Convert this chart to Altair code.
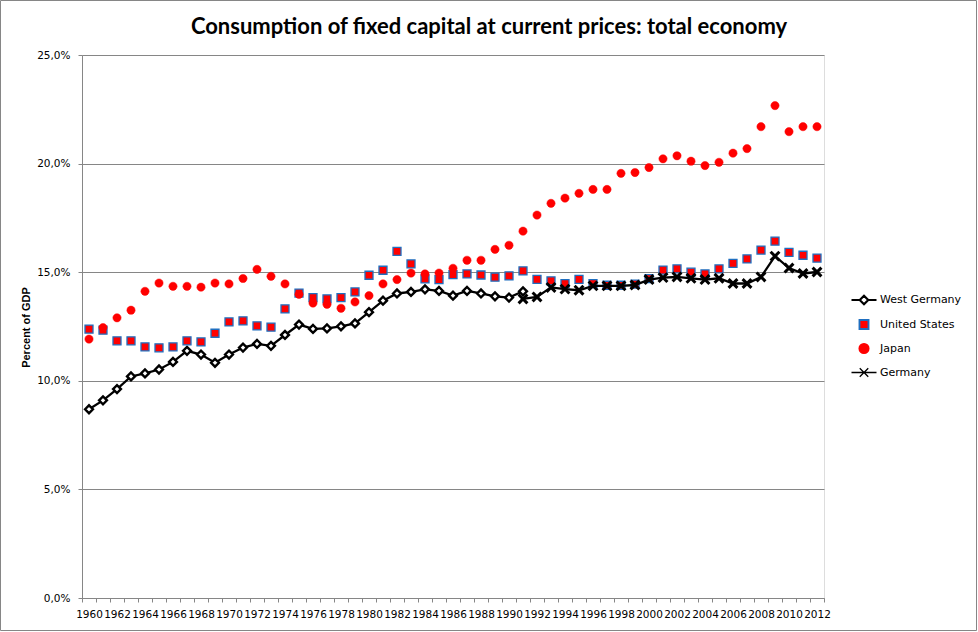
import altair as alt
import pandas as pd

years = list(range(1960, 2013))

west_germany_years = list(range(1960, 1992))
west_germany = [8.69, 9.10, 9.62, 10.20, 10.34, 10.52, 10.87, 11.38, 11.21, 10.83,
                11.21, 11.53, 11.70, 11.61, 12.11, 12.59, 12.39, 12.41, 12.51, 12.64,
                13.16, 13.69, 14.02, 14.09, 14.21, 14.14, 13.92, 14.14, 14.02, 13.89,
                13.83, 14.12]

germany_years = list(range(1991, 2013))
germany = [13.77, 13.86, 14.30, 14.22, 14.17, 14.37, 14.37, 14.37, 14.41, 14.66,
           14.75, 14.78, 14.72, 14.66, 14.72, 14.48, 14.48, 14.78, 15.74, 15.19,
           14.94, 15.01]

japan = [11.92, 12.45, 12.90, 13.25, 14.12, 14.50, 14.35, 14.35, 14.31, 14.50,
         14.46, 14.71, 15.13, 14.81, 14.46, 13.98, 13.58, 13.52, 13.34, 13.63,
         13.92, 14.46, 14.66, 14.96, 14.92, 14.96, 15.18, 15.55, 15.55, 16.05,
         16.24, 16.89, 17.63, 18.17, 18.41, 18.63, 18.81, 18.81, 19.55, 19.59,
         19.82, 20.22, 20.36, 20.11, 19.91, 20.06, 20.48, 20.69, 21.70, 22.67,
         21.47, 21.70, 21.70]

united_states = [12.38, 12.33, 11.84, 11.84, 11.56, 11.52, 11.56, 11.84, 11.79, 12.19,
                 12.71, 12.76, 12.53, 12.47, 13.31, 14.04, 13.83, 13.77, 13.83, 14.09,
                 14.86, 15.09, 15.96, 15.38, 14.69, 14.66, 14.89, 14.92, 14.87, 14.77,
                 14.83, 15.06, 14.67, 14.60, 14.47, 14.67, 14.47, 14.40, 14.40, 14.45,
                 14.70, 15.10, 15.15, 15.00, 14.92, 15.15, 15.41, 15.61, 16.02, 16.43,
                 15.91, 15.78, 15.65]

series_names = ["West Germany", "United States", "Japan", "Germany"]
y_ticks = [0, 5, 10, 15, 20, 25]

rows = []
for y, v in zip(west_germany_years, west_germany):
    rows.append({"year": y, "series": "West Germany", "value": v})
for y, v in zip(years, united_states):
    rows.append({"year": y, "series": "United States", "value": v})
for y, v in zip(years, japan):
    rows.append({"year": y, "series": "Japan", "value": v})
for y, v in zip(germany_years, germany):
    rows.append({"year": y, "series": "Germany", "value": v})
df = pd.DataFrame(rows)

GRAY = "#868686"
W, H = 742, 543
PADL, PADT = 82, 55

x_enc = alt.X(
    "year:O",
    scale=alt.Scale(type="band", domain=years, paddingInner=0, paddingOuter=0),
    axis=alt.Axis(
        title=None, labelAngle=0, tickBand="extent", labelOverlap=False,
        labelExpr="datum.value % 2 == 0 ? datum.value : ''",
        labelFont="DejaVu Sans", labelFontSize=10.5, labelColor="black",
        domainColor=GRAY, tickColor=GRAY, tickSize=4, labelPadding=7,
        grid=False,
    ),
)
y_enc = alt.Y(
    "value:Q",
    scale=alt.Scale(domain=[0, 25], nice=False, zero=True),
    axis=alt.Axis(
        values=y_ticks, title="Percent of GDP",
        labelExpr="replace(format(datum.value, '.1f'), '.', ',') + '%'",
        labelFont="DejaVu Sans", labelFontSize=10.5, labelColor="black",
        labelPadding=8, tickSize=4, tickColor=GRAY, domainColor=GRAY,
        grid=True, gridColor=GRAY, gridWidth=1,
        titleFont="Liberation Sans", titleFontSize=11, titleFontWeight="bold",
        titleColor="black", titleX=-56, titleY=272, titleAngle=270,
        titleAlign="center", titleBaseline="middle",
    ),
)

base = alt.Chart(df).encode(x=x_enc, y=y_enc)

frame = alt.Chart(alt.Data(values=[{"a": 1}])).mark_rect(
    fill="transparent", stroke=GRAY, strokeWidth=1
).encode(
    x=alt.value(-PADL + 0.5), x2=alt.value(978 - PADL - 1.5),
    y=alt.value(-PADT + 0.5), y2=alt.value(632 - PADT - 1.5),
)

wg = base.transform_filter(alt.datum.series == "West Germany")
wg_line = wg.mark_line(color="black", strokeWidth=2.3)
wg_pts = wg.mark_point(
    shape="diamond", filled=False, fill="white", stroke="black",
    strokeWidth=2.4, size=62, opacity=1
)

us = base.transform_filter(alt.datum.series == "United States").mark_point(
    shape="square", fill="#ff0000", stroke="#1f6fc0", strokeWidth=1.3,
    size=64, opacity=1, filled=True
)

jp = base.transform_filter(alt.datum.series == "Japan").mark_point(
    shape="circle", fill="#ff0000", stroke="#ff0000", strokeWidth=0.5,
    size=68, opacity=1, filled=True
)

de = base.transform_filter(alt.datum.series == "Germany")
de_line = de.mark_line(color="black", strokeWidth=2.3)
de_pts = de.mark_point(
    shape="M-1,-1L1,1M-1,1L1,-1", filled=False, stroke="black",
    strokeWidth=3, size=78, opacity=1
)

legend_shapes = [
    "M-1,0L-0.34,0M0.34,0L1,0M-0.34,0L0,-0.34L0.34,0L0,0.34Z",
    "M-0.36,-0.36L0.36,-0.36L0.36,0.36L-0.36,0.36Z",
    "M-0.38,0A0.38,0.38,0,1,0,0.38,0A0.38,0.38,0,1,0,-0.38,0Z",
    "M-1,0L1,0M-0.34,-0.34L0.34,0.34M-0.34,0.34L0.34,-0.34",
]
leg_common = dict(
    orient="none", legendX=768, legendY=231, title=None,
    symbolSize=625, labelFont="DejaVu Sans", labelFontSize=11,
    labelColor="black", labelOffset=2, rowPadding=2, symbolOpacity=1,
)
legend_layer = base.mark_point(opacity=0, filled=False).encode(
    shape=alt.Shape("series:N", scale=alt.Scale(domain=series_names, range=legend_shapes),
                    legend=alt.Legend(**leg_common)),
    fill=alt.Fill("series:N", scale=alt.Scale(domain=series_names,
                  range=["white", "#ff0000", "#ff0000", "transparent"]),
                  legend=alt.Legend(**leg_common)),
    stroke=alt.Stroke("series:N", scale=alt.Scale(domain=series_names,
                      range=["black", "#1f6fc0", "#ff0000", "black"]),
                      legend=alt.Legend(**leg_common)),
    strokeWidth=alt.StrokeWidth("series:N", scale=alt.Scale(domain=series_names,
                                range=[2.2, 1.3, 0.5, 2.6]),
                                legend=alt.Legend(**leg_common)),
)

chart = alt.layer(
    frame, wg_line, wg_pts, us, jp, de_line, de_pts, legend_layer
).properties(
    width=W, height=H,
    padding={"left": PADL, "top": PADT, "right": 978 - PADL - W, "bottom": 632 - PADT - H},
    autosize=alt.AutoSizeParams(type="none"),
    title=alt.Title(
        "Consumption of fixed capital at current prices: total economy",
        font="Lato", fontSize=22, fontWeight="bold", color="black",
        anchor="middle", dx=36, dy=39, offset=0,
    ),
).configure_view(stroke=None).configure(background="white")

chart.save("out.html", embed_options={"renderer": "svg", "actions": False})
